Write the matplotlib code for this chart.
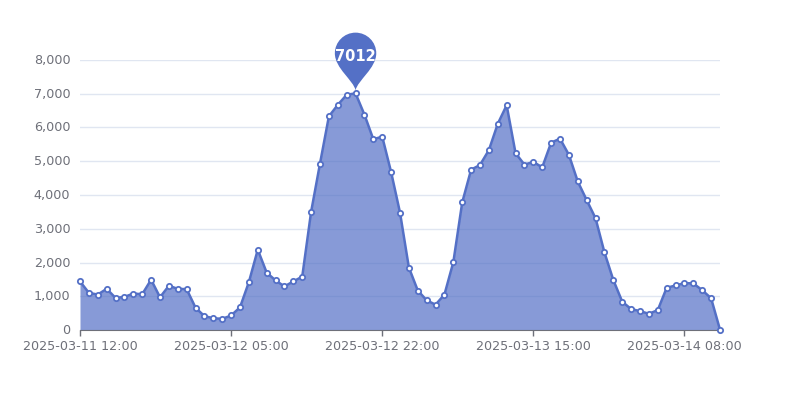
#!/usr/bin/env python3
import matplotlib
matplotlib.use('Agg')
import matplotlib.pyplot as plt
import pandas as pd
from matplotlib.patches import PathPatch
from matplotlib.path import Path
from matplotlib.transforms import Affine2D

values = [1440, 1100, 1050, 1220, 950, 980, 1080, 1060, 1490, 970, 1310, 1220, 1210,
          660, 410, 350, 330, 430, 670, 1420, 2380, 1700, 1470, 1290, 1440, 1580,
          3500, 4930, 6330, 6670, 6970, 7012, 6380, 5650, 5730, 4680, 3480, 1850,
          1170, 880, 750, 1050, 2010, 3780, 4750, 4890, 5330, 6110, 6660, 5240,
          4900, 4980, 4820, 5550, 5670, 5190, 4400, 3850, 3310, 2300, 1480, 840,
          620, 560, 480, 590, 1250, 1320, 1390, 1380, 1180, 940, 10]
y_ticks = [0, 1000, 2000, 3000, 4000, 5000, 6000, 7000, 8000]
peak_label = '7012'

times = pd.date_range('2025-03-11 12:00', periods=len(values), freq='h')
x = list(range(len(values)))
tick_idx = x[::17]
tick_labels = [times[i].strftime('%Y-%m-%d %H:%M') for i in tick_idx]

blue = '#5470c6'
text_c = '#6e7079'

fig = plt.figure(figsize=(8, 4), dpi=100)
ax = fig.add_axes([80 / 800, (400 - 330) / 400, 640 / 800, (330 - 60) / 400])
ax.set_xlim(0, len(values) - 1)
ax.set_ylim(0, 8000)

ax.fill_between(x, values, 0, color=blue, alpha=0.7, lw=0, zorder=2)
ax.plot(x, values, color=blue, lw=1.8, marker='o', ms=3.8, mfc='white', mec=blue, mew=1.3,
        zorder=3, clip_on=False)

for s in ['top', 'left', 'right']:
    ax.spines[s].set_visible(False)
ax.spines['bottom'].set_color(text_c)
ax.set_axisbelow(True)
ax.grid(axis='y', color='#e0e6f1', lw=1)
ax.set_yticks(y_ticks)
ax.set_yticklabels([f'{v:,}' for v in y_ticks])
ax.set_xticks(tick_idx)
ax.set_xticklabels(tick_labels)
ax.tick_params(axis='y', length=0, pad=7, labelsize=9.2, labelcolor=text_c)
ax.tick_params(axis='x', length=4, width=1, color=text_c, pad=3, labelsize=9.2, labelcolor=text_c)
# y labels sit a pixel above their grid lines
for lab in ax.get_yticklabels():
    lab.set_transform(lab.get_transform() + Affine2D().translate(0, 1))

# pin over the maximum, drawn in pixels from the data point
peak_i = values.index(max(values))
px, py = ax.transData.transform((peak_i, values[peak_i]))
r = 20.7
k = 0.5523 * r
cy = 40
verts = [(0, 3),
         (-2, 13), (-r, 25), (-r, cy),
         (-r, cy + k), (-k, cy + r), (0, cy + r),
         (k, cy + r), (r, cy + k), (r, cy),
         (r, 25), (2, 13), (0, 3),
         (0, 3)]
codes = [Path.MOVETO] + [Path.CURVE4] * 12 + [Path.CLOSEPOLY]
pin = PathPatch(Path(verts, codes), fc=blue, ec='none', zorder=5, clip_on=False,
                transform=Affine2D().translate(px, py))
ax.add_patch(pin)
ax.annotate(peak_label, xy=(peak_i, values[peak_i]), xytext=(0, (cy - 3) * 0.72),
            textcoords='offset points', ha='center', va='center', color='white',
            fontsize=10.5, fontweight='bold', zorder=6)

fig.savefig('out.png', dpi=100)
